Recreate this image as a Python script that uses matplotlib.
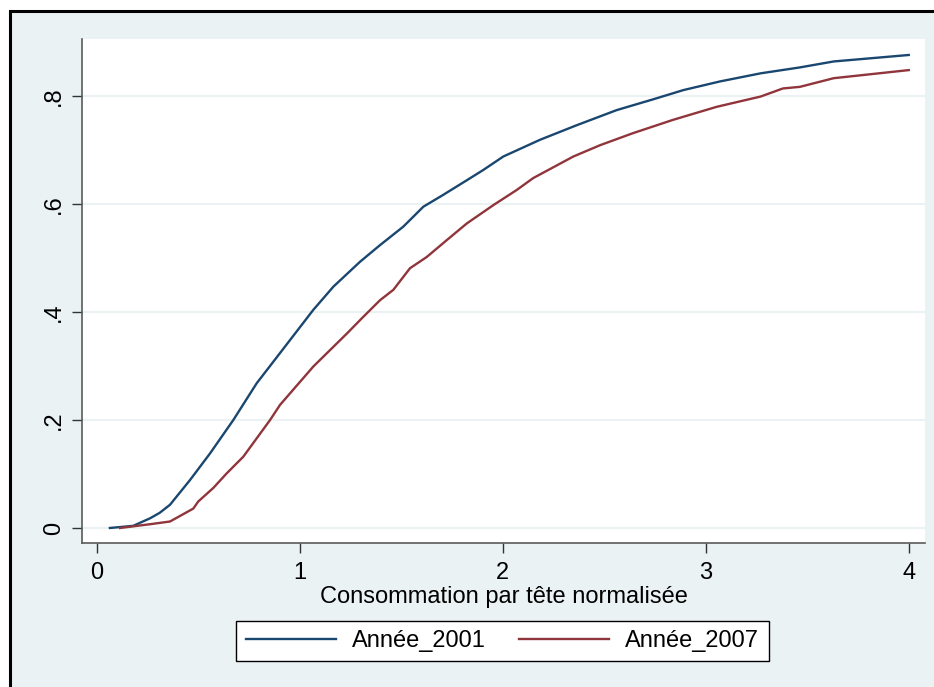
import matplotlib
matplotlib.use("Agg")
import matplotlib.pyplot as plt
from matplotlib.patches import Rectangle

plt.rcParams['font.family'] = ['Liberation Sans', 'DejaVu Sans']

# --- data ---
x_2001 = [0.065, 0.18, 0.263, 0.31, 0.361, 0.46, 0.558, 0.673, 0.788, 0.903,
          1.067, 1.166, 1.297, 1.396, 1.51, 1.609, 1.707, 1.823, 1.904, 2.003,
          2.184, 2.365, 2.562, 2.742, 2.89, 3.07, 3.27, 3.464, 3.63, 4.0]
y_2001 = [0.0, 0.004, 0.018, 0.028, 0.043, 0.089, 0.138, 0.2, 0.268, 0.324,
          0.404, 0.447, 0.493, 0.524, 0.558, 0.595, 0.617, 0.644, 0.663, 0.688,
          0.719, 0.746, 0.774, 0.794, 0.811, 0.827, 0.842, 0.853, 0.864, 0.876]

x_2007 = [0.115, 0.263, 0.361, 0.476, 0.5, 0.574, 0.64, 0.722, 0.854, 0.903,
          1.067, 1.232, 1.313, 1.396, 1.461, 1.543, 1.626, 1.724, 1.823, 1.954,
          2.069, 2.15, 2.348, 2.48, 2.64, 2.84, 3.054, 3.27, 3.38, 3.464,
          3.63, 4.0]
y_2007 = [0.0, 0.007, 0.012, 0.036, 0.049, 0.074, 0.101, 0.132, 0.2, 0.228,
          0.299, 0.36, 0.391, 0.422, 0.441, 0.481, 0.502, 0.533, 0.564, 0.598,
          0.626, 0.648, 0.688, 0.709, 0.731, 0.756, 0.78, 0.799, 0.814, 0.817,
          0.833, 0.848]

labels = ["Année_2001", "Année_2007"]
xticks = [0, 1, 2, 3, 4]
yticks = [0, 0.2, 0.4, 0.6, 0.8]
yticklabels = ["0", ".2", ".4", ".6", ".8"]
xlabel = "Consommation par tête normalisée"

BG = "#EAF2F3"
BLUE = "#1A476F"
RED = "#90353B"
FS = 17

W, H = 934, 687
fig = plt.figure(figsize=(W / 100, H / 100), dpi=100, facecolor="white")

# outer graph region with black border (left/top visible)
fig.add_artist(Rectangle((9.5 / W, -0.05), 1.2, 1 - 10.5 / H + 0.05,
                         transform=fig.transFigure, facecolor=BG,
                         edgecolor="black", linewidth=2.2, zorder=-10))

ax = fig.add_axes([82 / W, 1 - 543 / H, (925 - 82) / W, (543 - 39) / H])
ax.set_facecolor("white")

ax.plot(x_2001, y_2001, color=BLUE, linewidth=1.7, label=labels[0])
ax.plot(x_2007, y_2007, color=RED, linewidth=1.7, label=labels[1])

ax.set_xlim(-0.0724, 4.080)
ax.set_ylim(-0.0278, 0.9056)

ax.set_xticks(xticks)
ax.set_xticklabels([str(t) for t in xticks])
ax.set_yticks(yticks)
ax.set_yticklabels(yticklabels, rotation=90, va="center")

ax.grid(axis="y", color=BG, linewidth=1.5)
ax.set_axisbelow(True)

for s in ["top", "right"]:
    ax.spines[s].set_visible(False)
for s in ["left", "bottom"]:
    ax.spines[s].set_color("#5a5a5a")
    ax.spines[s].set_linewidth(1.2)

ax.tick_params(axis="both", direction="out", length=7, width=1.0,
               color="#333333", labelsize=FS, pad=5)
ax.tick_params(axis="x", pad=7)

ax.set_xlabel(xlabel, fontsize=FS, labelpad=1)

leg = fig.legend(loc="center", bbox_to_anchor=(502.5 / W, 1 - 641 / H),
                 ncol=2, fontsize=FS, frameon=True, fancybox=False,
                 edgecolor="black", facecolor="white", framealpha=1,
                 handlelength=3.8, handletextpad=0.7, columnspacing=1.4,
                 borderpad=0.4)
leg.get_frame().set_linewidth(1.0)

fig.savefig("out.png", dpi=100, facecolor="white")
